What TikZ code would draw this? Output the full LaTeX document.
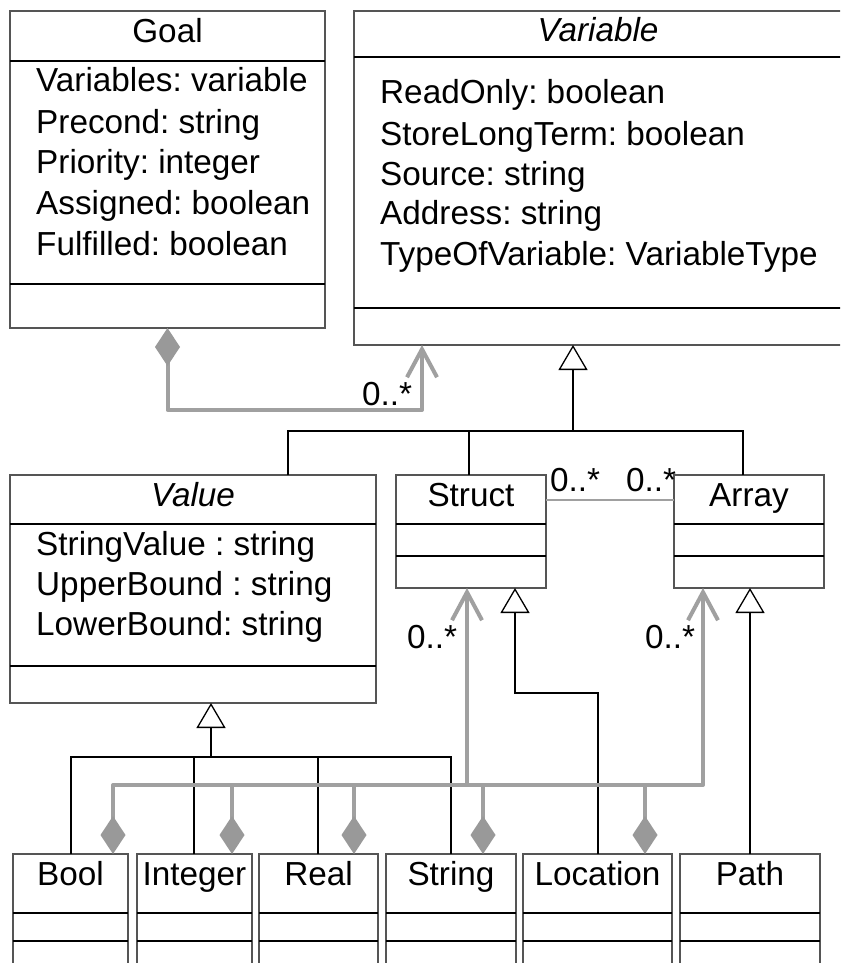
\documentclass[tikz,border=0pt]{standalone}
\usepackage{fontspec}
\setmainfont{Liberation Sans}
\usetikzlibrary{arrows.meta}
\definecolor{assocgray}{HTML}{A0A0A0}
\definecolor{diagray}{HTML}{999999}
\definecolor{framegray}{HTML}{555555}
\frenchspacing

\tikzset{
  dia/.tip={Diamond[length=38pt,width=25pt,line width=0pt,color=diagray,fill=diagray]},
  barb/.tip={Straight Barb[length=28pt,width=30pt]},
  tri/.tip={Triangle[open,fill=white,length=25pt,width=29pt,line width=1.3pt]},
  classbox/.style={draw=framegray, line width=1.5pt, rectangle, inner sep=0pt,
                   outer sep=0pt, anchor=north west},
  divider/.style={line width=1.5pt, black},
  txt/.style={font=\fontsize{33.3}{40}\selectfont\frenchspacing, inner sep=0pt},
  ttl/.style={txt, anchor=base},
  attr/.style={txt, anchor=base west},
  mult/.style={txt, anchor=base west},
  genline/.style={line width=2.5pt, black},
  assoc/.style={line width=4pt, assocgray, line join=round},
  link/.style={line width=2pt, assocgray},
}

\begin{document}
\begin{tikzpicture}[x=1pt,y=-1pt]
\useasboundingbox[fill=white] (0,0) rectangle (840,963);
\clip (0,0) rectangle (840,963);

% ---------- Goal ----------
\node[classbox, minimum width=315pt, minimum height=317pt] (goal) at (10,11) {};
\draw[divider] (goal.west |- 0,61) -- (goal.east |- 0,61);
\draw[divider] (goal.west |- 0,284) -- (goal.east |- 0,284);
\node[ttl] at (goal.north |- 0,43) {Goal};
\node[attr] at (36,92)  {Variables: variable};
\node[attr] at (36,133) {Precond: string};
\node[attr] at (36,173) {Priority: integer};
\node[attr] at (36,214) {Assigned: boolean};
\node[attr] at (36,255) {Fulfilled: boolean};

% ---------- Variable ----------
\node[classbox, minimum width=488pt, minimum height=334pt] (var) at (354,11) {};
\draw[divider] (var.west |- 0,57) -- (var.east |- 0,57);
\draw[divider] (var.west |- 0,308) -- (var.east |- 0,308);
\node[ttl] at (var.north |- 0,42) {\itshape Variable};
\node[attr] at (380,104) {ReadOnly: boolean};
\node[attr] at (380,145) {StoreLongTerm: boolean};
\node[attr] at (380,185) {Source: string};
\node[attr] at (380,224) {Address: string};
\node[attr] at (380,265) {TypeOfVariable: VariableType};

% ---------- Value ----------
\node[classbox, minimum width=366pt, minimum height=228pt] (value) at (10,475) {};
\draw[divider] (value.west |- 0,524) -- (value.east |- 0,524);
\draw[divider] (value.west |- 0,666) -- (value.east |- 0,666);
\node[ttl] at (value.north |- 0,506) {\itshape Value};
\node[attr] at (36,555) {StringValue : string};
\node[attr] at (36,595) {UpperBound : string};
\node[attr] at (36,635) {LowerBound: string};

% ---------- Struct / Array ----------
\node[classbox, minimum width=150pt, minimum height=113pt] (struct) at (396,475) {};
\draw[divider] (struct.west |- 0,524) -- (struct.east |- 0,524);
\draw[divider] (struct.west |- 0,556) -- (struct.east |- 0,556);
\node[ttl] at (struct.north |- 0,506) {Struct};

\node[classbox, minimum width=150pt, minimum height=113pt] (array) at (674,475) {};
\draw[divider] (array.west |- 0,524) -- (array.east |- 0,524);
\draw[divider] (array.west |- 0,556) -- (array.east |- 0,556);
\node[ttl] at (array.north |- 0,506) {Array};

% ---------- leaf classes ----------
\foreach \nm/\lab/\xl/\w in {bool/Bool/13/115, integer/Integer/137/115,
    real/Real/259/119, string/String/386/130, location/Location/523/149,
    path/Path/680/140}{
  \node[classbox, minimum width=\w pt, minimum height=140pt] (\nm) at (\xl,854) {};
  \draw[divider] (\nm.west |- 0,913) -- (\nm.east |- 0,913);
  \draw[divider] (\nm.west |- 0,941) -- (\nm.east |- 0,941);
  \node[ttl] at (\nm.north |- 0,885) {\lab};
}

% ---------- Goal aggregates Variable ----------
\coordinate (gj) at (422,410);
\draw[assoc, dia-barb] (goal.south) |- (gj) -- (var.south -| gj);
\node[mult] at (362,405) {0..*};

% ---------- generalisation to Variable ----------
\coordinate (vj) at (573,431);
\draw[genline, -tri] (vj) -- (var.south -| vj);
\draw[genline] (value.north -| 288,0) -- (288,431) -- (743,431) -- (array.north -| 743,0);
\draw[genline] (struct.north -| 469,0) -- (469,431);

% ---------- Struct -- Array ----------
\draw[link] (struct.east |- 0,500) -- (array.west |- 0,500);
\node[mult] at (550,491) {0..*};
\node[mult] at (626,491) {0..*};

% ---------- generalisation to Value ----------
\coordinate (hj) at (211,757);
\draw[genline, -tri] (hj) -- (value.south -| hj);
\draw[genline] (bool.north -| 71,0) -- (71,757) -- (451,757) -- (string.north -| 451,0);
\draw[genline] (integer.north -| 194,0) -- (194,757);
\draw[genline] (real.north -| 318,0) -- (318,757);

% ---------- generalisation to Struct and Array ----------
\draw[genline, -tri] (location.north -| 598,0) -- (598,693) -- (515,693) -- (struct.south -| 515,0);
\draw[genline, -tri] (path.north -| 750,0) -- (array.south -| 750,0);

% ---------- composition bus to Struct and Array ----------
\draw[assoc, dia-barb] (bool.north -| 113,0) -- (113,785) -- (703,785) -- (array.south -| 703,0);
\draw[assoc, -barb] (467,785) -- (struct.south -| 467,0);
\draw[assoc, dia-] (integer.north -| 232,0) -- (232,785);
\draw[assoc, dia-] (real.north -| 354,0) -- (354,785);
\draw[assoc, dia-] (string.north -| 483,0) -- (483,785);
\draw[assoc, dia-] (location.north -| 645,0) -- (645,785);
\node[mult] at (407,648) {0..*};
\node[mult] at (645,648) {0..*};
\end{tikzpicture}
\end{document}
